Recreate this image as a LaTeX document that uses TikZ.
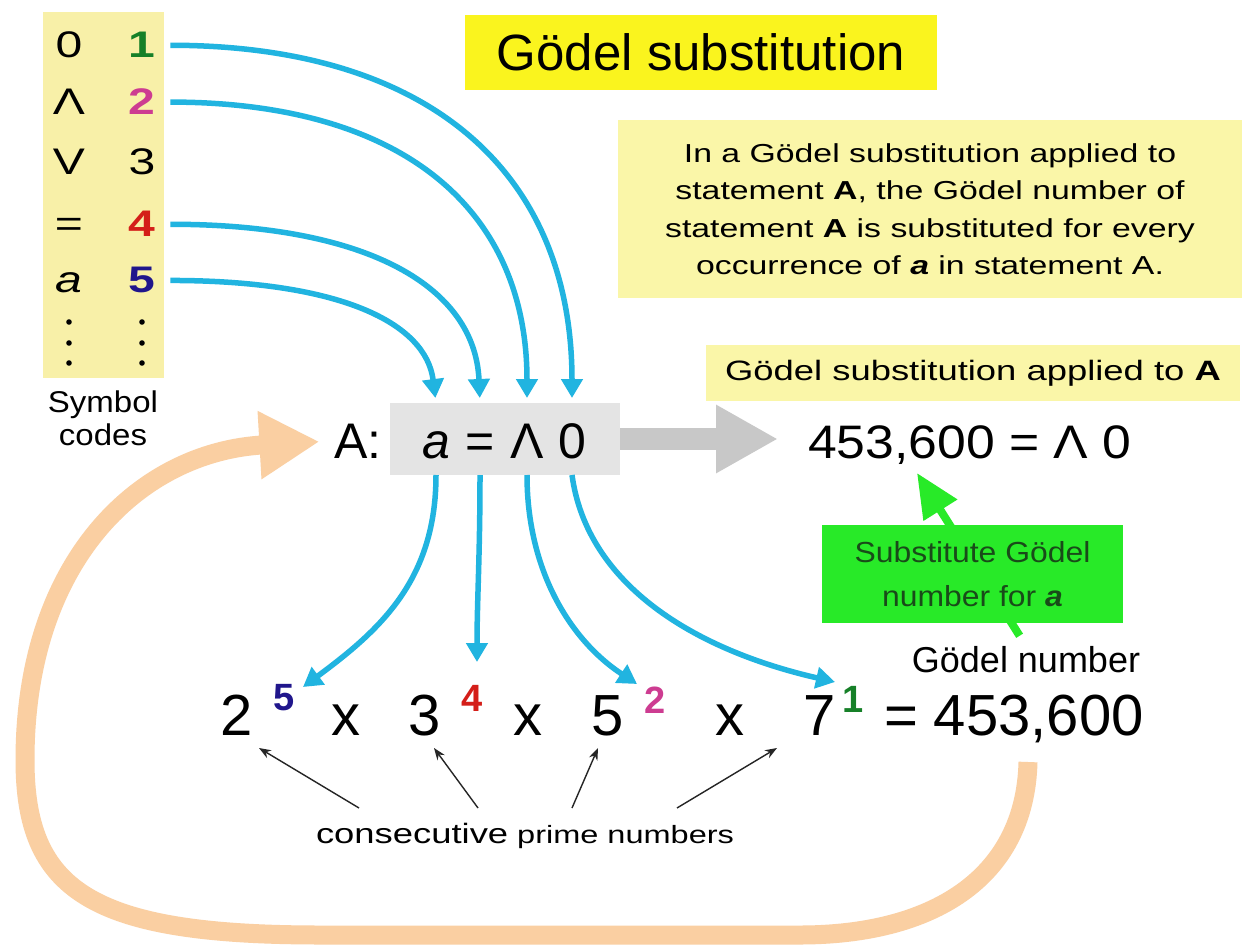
\documentclass[tikz,border=0pt]{standalone}
\usepackage{fontspec}
\setmainfont{Liberation Sans}
\newfontfamily\widefont{Liberation Sans}[FakeStretch=1.3]
\newfontfamily\midfont{Liberation Sans}[FakeStretch=1.1]
\usetikzlibrary{arrows.meta}
\definecolor{cyanarr}{RGB}{33,180,224}
\definecolor{peach}{RGB}{250,207,162}
\definecolor{symyel}{RGB}{248,240,168}
\definecolor{titleyel}{RGB}{250,244,30}
\definecolor{noteyel}{RGB}{250,246,168}
\definecolor{boxgray}{RGB}{228,228,228}
\definecolor{arrgray}{RGB}{200,200,200}
\definecolor{boxgreen}{RGB}{40,234,40}
\definecolor{gtext}{RGB}{25,75,25}
\definecolor{cgreen}{RGB}{22,128,40}
\definecolor{cpink}{RGB}{205,60,145}
\definecolor{cred}{RGB}{212,30,25}
\definecolor{cblue}{RGB}{32,22,140}
\begin{document}
\begin{tikzpicture}[x=1pt,y=-1pt,
  every node/.style={inner sep=0pt, outer sep=0pt},
  cyanarrow/.style={draw=cyanarr, line width=5.5pt, -{Triangle[width=21pt,length=19pt]}},
  thinarrow/.style={draw=black!85, line width=1.4pt, -{Stealth[width=9pt,length=12pt]}},
  grayarrow/.style={draw=arrgray, line width=22pt, -{Triangle[width=64pt,length=62pt]}},
  orangearrow/.style={draw=peach, line width=19pt, -{Triangle[width=64pt,length=60pt]}},
  greenarrow/.style={draw=boxgreen, line width=8pt, -{Triangle[width=38pt,length=44pt]}},
  symtxt/.style={anchor=base, font=\widefont\fontsize{37}{40}\selectfont},
  codetxt/.style={anchor=base, inner xsep=15pt, font=\widefont\bfseries\fontsize{37}{40}\selectfont},
  eqtxt/.style={anchor=base, font=\fontsize{50}{56}\selectfont},
  bigtxt/.style={anchor=base, font=\fontsize{58}{62}\selectfont},
  exptxt/.style={anchor=base, font=\bfseries\fontsize{38}{40}\selectfont},
]
\useasboundingbox (0,0) rectangle (1249,949);
\fill[white] (0,0) rectangle (1249,949);

% ---------- boxes ----------
\node[fill=symyel, minimum width=121pt, minimum height=366pt] (symbox) at (103,195) {};
\node[fill=titleyel, minimum width=472pt, minimum height=75pt,
      font=\fontsize{51}{56}\selectfont] (title) at (701,52.5) {Gödel substitution};
\node[fill=noteyel, minimum width=624pt, minimum height=178pt, align=center,
      font=\widefont\fontsize{26}{37.5}\selectfont] (note) at (930,209)
  {In a Gödel substitution applied to\\
   statement \textbf{A}, the Gödel number of\\
   statement \textbf{A} is substituted for every\\
   occurrence of \textbf{\textit{a}} in statement A.};
\node[fill=noteyel, minimum width=534pt, minimum height=56pt,
      font=\widefont\fontsize{28}{32}\selectfont] (applied) at (973,373)
  {Gödel substitution applied to \textbf{A}};
\node[fill=boxgray, minimum width=230pt, minimum height=72pt] (Abox) at (505,439) {};

% ---------- symbol table ----------
\node[symtxt] (s0) at (69,58) {0};
\node[symtxt] (sand) at (69,115) {Λ};
\node[symtxt] (sor) at (69,175) {V};
\node[symtxt] (seqs) at (69,237) {=};
\node[symtxt] (sva) at (69,293) {\itshape a};
\node[codetxt, text=cgreen] (c1) at (142,58) {1};
\node[codetxt, text=cpink] (c2) at (142,115) {2};
\node[symtxt] (c3) at (142,175) {3};
\node[codetxt, text=cred] (c4) at (142,237) {4};
\node[codetxt, text=cblue] (c5) at (142,293) {5};
\foreach \yy in {322,343,363}{
  \fill (69,\yy) circle (2.8);
  \fill (142,\yy) circle (2.8);
}
\node[anchor=base, font=\midfont\fontsize{30}{33}\selectfont] (lab1) at (103,412) {Symbol};
\node[anchor=base, font=\midfont\fontsize{30}{33}\selectfont] (lab2) at (103,445) {codes};

% ---------- statement A ----------
\node[eqtxt] (Alabel) at (358,458) {A:};
\node[eqtxt] (sa) at (436,458) {\itshape a};
\node[eqtxt] (se) at (480,458) {=};
\node[eqtxt] (sl) at (527,458) {Λ};
\node[eqtxt] (sz) at (572,458) {0};

% ---------- result ----------
\node[anchor=base west, font=\midfont\fontsize{47}{52}\selectfont] (res) at (808,458) {453,600 = Λ 0};

% ---------- product ----------
\node[bigtxt] (n2) at (237,735) {2};
\node[exptxt, text=cblue] (e5) at (284,710) {5};
\node[bigtxt] (x1) at (346,735) {x};
\node[bigtxt] (n3) at (425,735) {3};
\node[exptxt, text=cred] (e4) at (472,711) {4};
\node[bigtxt] (x2) at (528,735) {x};
\node[bigtxt] (n5) at (608,735) {5};
\node[exptxt, text=cpink] (e2) at (655,713) {2};
\node[bigtxt] (x3) at (730,735) {x};
\node[bigtxt] (n7) at (820,735) {7};
\node[exptxt, text=cgreen] (e1) at (853,712) {1};
\node[bigtxt, anchor=base west] (gnum) at (884,735) {= 453,600};

\node[anchor=base, font=\fontsize{36}{40}\selectfont] (gn) at (1026,672) {Gödel number};
\node[anchor=base west] (cp) at (316,843)
  {{\widefont\fontsize{28}{32}\selectfont consecutive}\hspace{9pt}{\widefont\fontsize{25}{30}\selectfont prime numbers}};

% ---------- coordinates for arrow tips ----------
\coordinate (t5) at (303,687);
\coordinate (t4) at (477,662);
\coordinate (t2) at (637,684);
\coordinate (t1) at (835,682);
\coordinate (gtip) at (917,473);
\coordinate (ostart) at (1028,762);
\coordinate (p2) at (259,748);
\coordinate (p3) at (434,748);
\coordinate (p5) at (598,748);
\coordinate (p7) at (777,748);
\coordinate (q2) at (359,808);
\coordinate (q3) at (478,808);
\coordinate (q5) at (572,808);
\coordinate (q7) at (677,808);

% ---------- orange loop arrow ----------
\draw[orangearrow, shorten >=15pt] (ostart) .. controls (1025,880) and (930,935) .. (800,935)
  -- (320,935) .. controls (90,935) and (25,890) .. (25,760)
  .. controls (25,560) and (140,452) .. (Alabel.west);

% ---------- gray arrow ----------
\draw[grayarrow, shorten >=30pt] (Abox.east) -- (res.west |- Abox.east);

% ---------- cyan arrows: codes to statement ----------
\draw[cyanarrow, shorten >=5pt] (c1.east) .. controls +(262,0) and +(0,-228) .. (sz |- Abox.north);
\draw[cyanarrow, shorten >=5pt] (c2.east) .. controls +(232,0) and +(0,-194) .. (sl |- Abox.north);
\draw[cyanarrow, shorten >=5pt] (c4.east) .. controls +(200,0) and +(-5,-115) .. (se |- Abox.north);
\draw[cyanarrow, shorten >=5pt] (c5.east) .. controls +(170,0) and +(-10,-80) .. (sa |- Abox.north);

% ---------- cyan arrows: statement to exponents ----------
\draw[cyanarrow] (sa |- Abox.south) .. controls +(0,105) and +(77,-57) .. (t5);
\draw[cyanarrow] (se |- Abox.south) .. controls +(0,80) and +(0,-60) .. (t4);
\draw[cyanarrow] (sl |- Abox.south) .. controls +(0,95) and +(-67,-44) .. (t2);
\draw[cyanarrow] (sz |- Abox.south) .. controls +(15,110) and +(-140,-32) .. (t1);

% ---------- green callout ----------
\draw[greenarrow, shorten <=12pt] (gn.north) -- (gtip);
\node[fill=boxgreen, minimum width=301pt, minimum height=98pt, align=center, text=gtext,
      font=\midfont\fontsize{29}{44}\selectfont] (gbox) at (972.5,574)
  {Substitute Gödel\\ number for \textbf{\textit{a}}};

% ---------- prime pointers ----------
\draw[thinarrow] (q2) -- (p2);
\draw[thinarrow] (q3) -- (p3);
\draw[thinarrow] (q5) -- (p5);
\draw[thinarrow] (q7) -- (p7);
\end{tikzpicture}
\end{document}
